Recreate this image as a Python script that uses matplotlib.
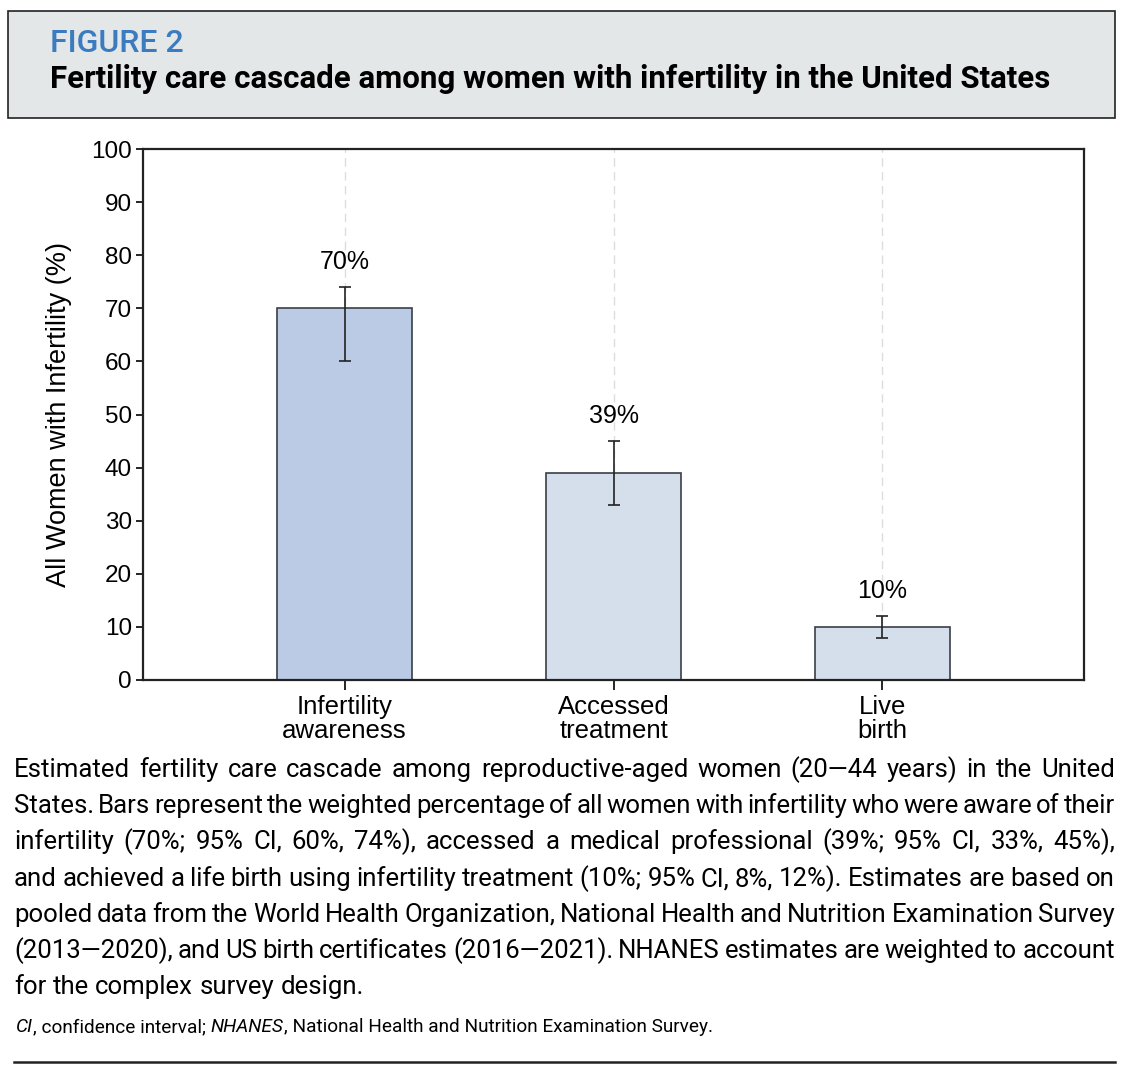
import matplotlib
matplotlib.use("Agg")
import matplotlib.pyplot as plt
from matplotlib.patches import Rectangle
from matplotlib.lines import Line2D
from matplotlib import font_manager

# Data
categories = ["Infertility\nawareness", "Accessed\ntreatment", "Live\nbirth"]
values = [70, 39, 10]
ci_low = [60, 33, 8]
ci_high = [74, 45, 12]
value_labels = ["70%", "39%", "10%"]
bar_colors = ["#bccbe5", "#d5dfec", "#d5dfec"]
yticks = list(range(0, 101, 10))

caption_lines = [
    "Estimated fertility care cascade among reproductive-aged women (20\u201444 years) in the United",
    "States. Bars represent the weighted percentage of all women with infertility who were aware of their",
    "infertility (70%; 95% CI, 60%, 74%), accessed a medical professional (39%; 95% CI, 33%, 45%),",
    "and achieved a life birth using infertility treatment (10%; 95% CI, 8%, 12%). Estimates are based on",
    "pooled data from the World Health Organization, National Health and Nutrition Examination Survey",
    "(2013\u20142020), and US birth certificates (2016\u20142021). NHANES estimates are weighted to account",
    "for the complex survey design.",
]
footnote = [("CI", "italic"), (", confidence interval; ", "normal"), ("NHANES", "italic"),
            (", National Health and Nutrition Examination Survey.", "normal")]

names = {f.name for f in font_manager.fontManager.ttflist}
narrow = "Liberation Sans Narrow" if "Liberation Sans Narrow" in names else "Roboto"
plain = "Liberation Sans"

W, H = 1130, 1076
fig = plt.figure(figsize=(W / 100, H / 100), dpi=100)


def fx(x):
    return x / W


def fy(y):
    return 1 - y / H


# Header box
fig.patches.append(Rectangle((fx(8), fy(118)), fx(1107), 107 / H, transform=fig.transFigure,
                             facecolor="#e4e7e8", edgecolor="#222222", linewidth=1.2))
fig.text(fx(50), fy(43), "FIGURE 2", color="#3b7cc0", fontsize=23, weight="medium",
         family=narrow, va="center")
fig.text(fx(50), fy(79), "Fertility care cascade among women with infertility in the United States",
         fontsize=22.5, weight="bold", family=narrow, va="center")

# Chart
ax = fig.add_axes([fx(143), fy(680), (1084 - 143) / W, (680 - 149) / H])
x = list(range(len(values)))
for xi in x:
    ax.axvline(xi, color="#dddddd", linestyle=(0, (6, 4)), linewidth=1, zorder=0)
ax.bar(x, values, width=0.5, color=bar_colors, edgecolor="#3a3f47", linewidth=1.2, zorder=2)
err = [[v - lo for v, lo in zip(values, ci_low)], [hi - v for v, hi in zip(values, ci_high)]]
ax.errorbar(x, values, yerr=err, fmt="none", ecolor="#222222", elinewidth=1.2,
            capsize=4, capthick=1.2, zorder=3)
for xi, hi, lab in zip(x, ci_high, value_labels):
    ax.text(xi, hi + 4.8, lab, ha="center", va="center", fontsize=18, family=plain)

ax.set_xlim(-0.75, 2.75)
ax.set_ylim(0, 100)
ax.set_yticks(yticks)
ax.set_xticks(x)
ax.set_xticklabels(categories, fontsize=18.5, family=plain, linespacing=1.0)
ax.tick_params(axis="y", labelsize=17.5, length=5, width=1.2, direction="out", pad=3)
ax.tick_params(axis="x", length=7, width=1.2, direction="out", pad=4)
for lab in ax.get_yticklabels():
    lab.set_family(plain)
ax.set_ylabel("All Women with Infertility (%)", fontsize=19.5, family=plain, labelpad=14)
for s in ax.spines.values():
    s.set_linewidth(1.6)
    s.set_color("#222222")

# Caption, justified
renderer = fig.canvas.get_renderer()
x0, x1 = 14, 1115
ys = [770, 806, 842, 879, 915, 951, 987]
cap_size = 18.5
probe = fig.text(0, 0, "a", fontsize=cap_size, family=narrow)
w1 = probe.get_window_extent(renderer).width
probe.set_text("a a")
space = probe.get_window_extent(renderer).width - 2 * w1
probe.remove()
for i, (line, yy) in enumerate(zip(caption_lines, ys)):
    words = line.split()
    texts = [fig.text(0, fy(yy), w, fontsize=cap_size, family=narrow, va="center") for w in words]
    widths = [t.get_window_extent(renderer).width for t in texts]
    if i == len(caption_lines) - 1:
        gap = space
    else:
        gap = (x1 - x0 - sum(widths)) / (len(words) - 1)
    pos = x0
    for t, w in zip(texts, widths):
        t.set_x(fx(pos))
        pos += w + gap

# Footnote with italic parts
pos = 16
for txt, style in footnote:
    t = fig.text(fx(pos), fy(1027), txt, fontsize=13.7, family=narrow, style=style, va="center")
    pos += t.get_window_extent(renderer).width

fig.add_artist(Line2D([fx(14), fx(1115)], [fy(1062), fy(1062)], transform=fig.transFigure,
                      color="#222222", linewidth=1.8))

fig.savefig("out.png", dpi=100)
